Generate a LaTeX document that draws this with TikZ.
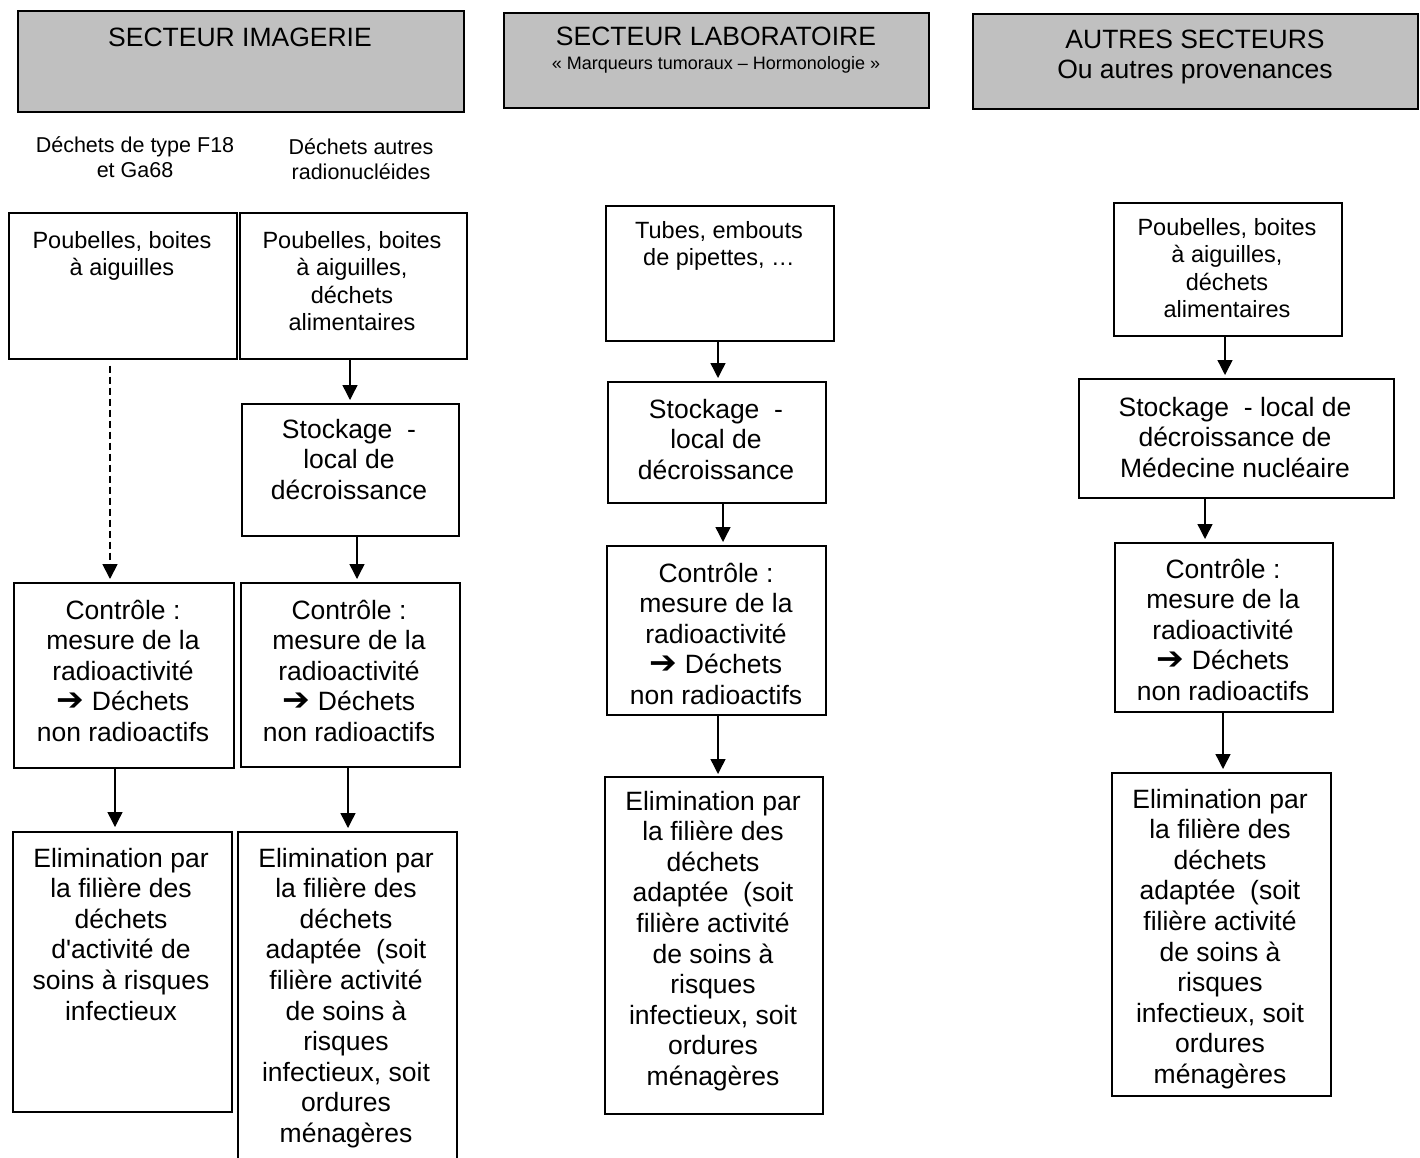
\documentclass[tikz,border=0pt]{standalone}
\usepackage{fontspec}
\setmainfont{Liberation Sans}[Ligatures=TeXOff]
\newfontfamily\djv{DejaVu Sans}
\usetikzlibrary{arrows.meta}
\newcommand{\harr}{{\djv\scalebox{1.25}[1.2]{➔}}}
\begin{document}
\begin{tikzpicture}[x=1pt,y=-1pt,
  box/.style={draw=black, line width=1.6pt, fill=white, inner sep=0pt, anchor=north west},
  hdr/.style={box, fill=headgray},
  txt/.style={align=center, anchor=base, inner sep=0pt, font=\fontsize{26.5}{30.6}\selectfont},
  txtA/.style={txt, font=\fontsize{23.5}{27.5}\selectfont},
  lbl/.style={txt, font=\fontsize{21.5}{25.5}\selectfont},
  arr/.style={line width=1.4pt, -{Triangle[length=15pt,width=15pt]}},
]
\definecolor{headgray}{HTML}{C0C0C0}
\useasboundingbox (0,0) rectangle (1420,1157);
\clip (0,0) rectangle (1420,1157);
\fill[white] (0,0) rectangle (1420,1157);

% headers (text anchors are at the baseline of the LAST line)
\node[hdr, minimum width=446pt, minimum height=101pt] (H1) at (17,10) {};
\node[hdr, minimum width=425pt, minimum height=95pt] (H2) at (503,12) {};
\node[hdr, minimum width=445pt, minimum height=95pt] (H3) at (972,13) {};
\node[txt] (H1t) at (240,46) {SECTEUR IMAGERIE};
\node[txt] (H2t) at (716,45) {SECTEUR LABORATOIRE};
\node[txt, font=\fontsize{18}{21}\selectfont] (H2s) at (716,69) {«~Marqueurs tumoraux – Hormonologie~»};
\node[txt] (H3t) at (1195,78.6) {AUTRES SECTEURS\\Ou autres provenances};

% sub labels
\node[lbl] (L1) at (135,177.5) {Déchets de type F18\\et Ga68};
\node[lbl] (L2) at (361,179.5) {Déchets autres\\radionucléides};

% column 1
\node[box, minimum width=228pt, minimum height=146pt] (A1) at (8,212) {};
\node[box, minimum width=220pt, minimum height=185pt] (C1) at (13,582) {};
\node[box, minimum width=219pt, minimum height=280pt] (E1) at (12,831) {};
\node[txtA] (A1t) at (122,275.5) {Poubelles, boites\\à aiguilles};
\node[txt] (C1t) at (123,741.4) {Contrôle :\\mesure de la\\radioactivité\\\harr{} Déchets\\non radioactifs};
\node[txt] (E1t) at (121,1020) {Elimination par\\la filière des\\déchets\\d'activité de\\soins à risques\\infectieux};

% column 2
\node[box, minimum width=227pt, minimum height=146pt] (A2) at (239,212) {};
\node[box, minimum width=217pt, minimum height=132pt] (B2) at (241,403) {};
\node[box, minimum width=219pt, minimum height=184pt] (C2) at (240,582) {};
\node[box, minimum width=219pt, minimum height=360pt] (E2) at (237,831) {};
\node[txtA] (A2t) at (352,330.5) {Poubelles, boites\\à aiguilles,\\déchets\\alimentaires};
\node[txt] (B2t) at (349,499.2) {Stockage\ \ -\\local de\\décroissance};
\node[txt] (C2t) at (349,741.4) {Contrôle :\\mesure de la\\radioactivité\\\harr{} Déchets\\non radioactifs};
\node[txt] (E2t) at (346,1142.4) {Elimination par\\la filière des\\déchets\\adaptée\ \ (soit\\filière activité\\de soins à\\risques\\infectieux, soit\\ordures\\ménagères};

% column 3
\node[box, minimum width=228pt, minimum height=135pt] (A3) at (605,205) {};
\node[box, minimum width=218pt, minimum height=121pt] (B3) at (607,381) {};
\node[box, minimum width=219pt, minimum height=169pt] (C3) at (606,545) {};
\node[box, minimum width=218pt, minimum height=337pt] (E3) at (604,776) {};
\node[txtA] (A3t) at (719,265.5) {Tubes, embouts\\de pipettes, …};
\node[txt] (B3t) at (716,479.2) {Stockage\ \ -\\local de\\décroissance};
\node[txt] (C3t) at (716,704.4) {Contrôle :\\mesure de la\\radioactivité\\\harr{} Déchets\\non radioactifs};
\node[txt] (E3t) at (713,1085.4) {Elimination par\\la filière des\\déchets\\adaptée\ \ (soit\\filière activité\\de soins à\\risques\\infectieux, soit\\ordures\\ménagères};

% column 4
\node[box, minimum width=228pt, minimum height=133pt] (A4) at (1113,202) {};
\node[box, minimum width=315pt, minimum height=119pt] (B4) at (1078,378) {};
\node[box, minimum width=218pt, minimum height=169pt] (C4) at (1114,542) {};
\node[box, minimum width=219pt, minimum height=323pt] (E4) at (1111,772) {};
\node[txtA] (A4t) at (1227,317.5) {Poubelles, boites\\à aiguilles,\\déchets\\alimentaires};
\node[txt] (B4t) at (1235,477.2) {Stockage\ \ - local de\\décroissance de\\Médecine nucléaire};
\node[txt] (C4t) at (1223,700.4) {Contrôle :\\mesure de la\\radioactivité\\\harr{} Déchets\\non radioactifs};
\node[txt] (E4t) at (1220,1083.4) {Elimination par\\la filière des\\déchets\\adaptée\ \ (soit\\filière activité\\de soins à\\risques\\infectieux, soit\\ordures\\ménagères};

% connectors
\draw[arr, dash pattern=on 7pt off 4pt, line width=1.8pt] (A1.south -| 110,0) ++(0,6) -- ([yshift=3pt]C1.north -| 110,0);
\draw[arr] (A2.south -| 350,0) -- ([yshift=3pt]B2.north -| 350,0);
\draw[arr] (B2.south -| 357,0) -- ([yshift=3pt]C2.north -| 357,0);
\draw[arr] (C1.south -| 115,0) -- ([yshift=4pt]E1.north -| 115,0);
\draw[arr] (C2.south -| 348,0) -- ([yshift=3pt]E2.north -| 348,0);
\draw[arr] (A3.south -| 718,0) -- ([yshift=3pt]B3.north -| 718,0);
\draw[arr] (B3.south -| 723,0) -- ([yshift=3pt]C3.north -| 723,0);
\draw[arr] (C3.south -| 718,0) -- ([yshift=2pt]E3.north -| 718,0);
\draw[arr] (A4.south -| 1225,0) -- ([yshift=3pt]B4.north -| 1225,0);
\draw[arr] (B4.south -| 1205,0) -- ([yshift=3pt]C4.north -| 1205,0);
\draw[arr] (C4.south -| 1223,0) -- ([yshift=3pt]E4.north -| 1223,0);
\end{tikzpicture}
\end{document}
